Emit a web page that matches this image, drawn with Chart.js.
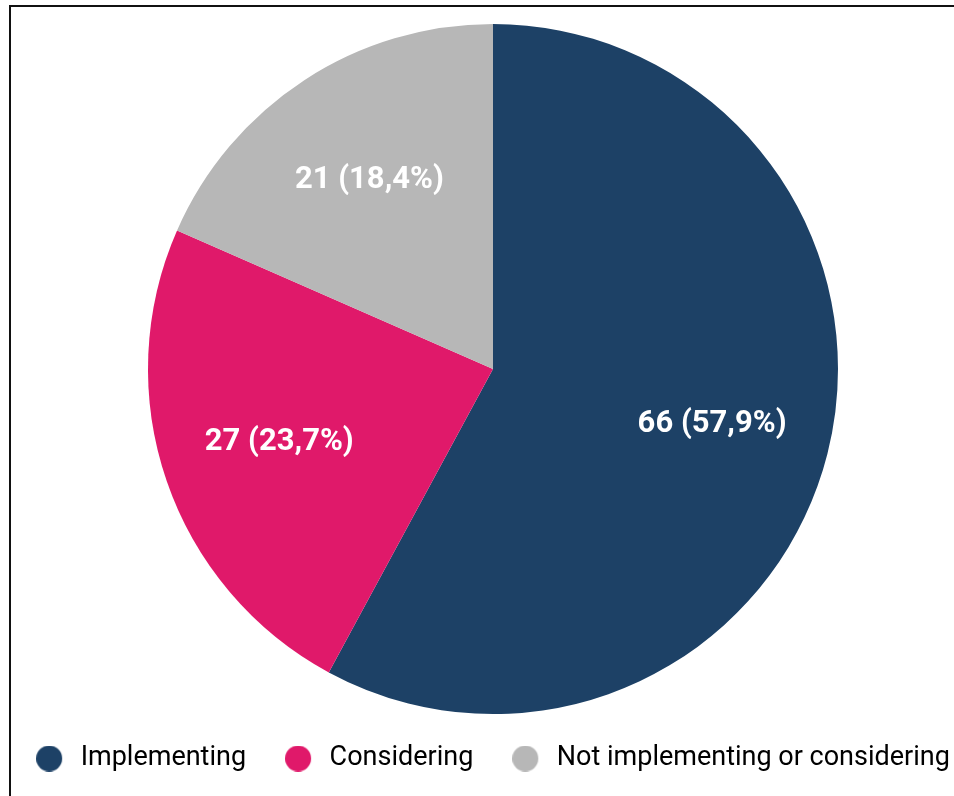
<!DOCTYPE html>
<html>
<head>
<meta charset="utf-8">
<script src="https://cdn.jsdelivr.net/npm/chart.js@4/dist/chart.umd.min.js"></script>
<style>
  html, body { margin: 0; padding: 0; background: #fff; }
  #wrap { position: relative; width: 954px; height: 796px; overflow: hidden; }
  #frame { position: absolute; left: 9px; top: 5px; width: 960px; height: 800px;
           border-left: 2px solid #111; border-top: 2px solid #111; }
  /* canvas is a bit wider than the page so the legend fits on one row */
  #chart { position: absolute; left: -27px; top: 0; }
</style>
</head>
<body>
<div id="wrap">
  <div id="frame"></div>
  <canvas id="chart" width="1040" height="796"></canvas>
</div>
<script>
// data
const categories = ['Implementing', 'Considering', 'Not implementing or considering'];
const counts = [66, 27, 21];
const sliceColors = ['#1d4166', '#e0196a', '#b7b7b7'];

const total = counts.reduce((a, b) => a + b, 0);

// label text like "66 (57,9%)"
const labelText = (v) => v + ' (' + (v / total * 100).toFixed(1).replace('.', ',') + '%)';

// legend dot: circle drawn at the left of a small canvas so the gap to the text matches
const makeDot = (color) => {
  const c = document.createElement('canvas');
  c.width = 31;
  c.height = 26;
  const g = c.getContext('2d');
  g.fillStyle = color;
  g.beginPath();
  g.arc(13, 13, 13, 0, Math.PI * 2);
  g.fill();
  return c;
};

const sliceLabels = {
  id: 'sliceLabels',
  afterDatasetsDraw(chart) {
    const ctx = chart.ctx;
    const meta = chart.getDatasetMeta(0);
    ctx.save();
    ctx.font = 'bold 31px Roboto';
    ctx.fillStyle = '#ffffff';
    ctx.textAlign = 'center';
    ctx.textBaseline = 'middle';
    meta.data.forEach((arc, i) => {
      const p = arc.getProps(['x', 'y', 'startAngle', 'endAngle', 'outerRadius'], true);
      const mid = (p.startAngle + p.endAngle) / 2;
      const r = p.outerRadius * 0.655;
      ctx.fillText(labelText(counts[i]), p.x + Math.cos(mid) * r, p.y + Math.sin(mid) * r);
    });
    ctx.restore();
  }
};

// legend sits a little closer to the pie than Chart.js puts it
const liftLegend = {
  id: 'liftLegend',
  afterLayout(chart) {
    chart.legend.top -= 8;
    chart.legend.bottom -= 8;
  }
};

new Chart('chart', {
  type: 'pie',
  data: {
    labels: categories,
    datasets: [{
      data: counts,
      backgroundColor: sliceColors,
      borderWidth: 0
    }]
  },
  options: {
    responsive: false,
    animation: false,
    layout: { padding: { top: 24, bottom: 6 } },
    plugins: {
      tooltip: { enabled: false },
      legend: {
        position: 'bottom',
        labels: {
          usePointStyle: true,
          pointStyleWidth: 31,
          boxHeight: 26,
          padding: 39,
          color: '#333',
          font: { family: 'Roboto', size: 27 },
          generateLabels: (chart) => categories.map((name, i) => ({
            text: name,
            pointStyle: makeDot(sliceColors[i]),
            fillStyle: sliceColors[i],
            strokeStyle: sliceColors[i],
            lineWidth: 0,
            index: i,
            hidden: false
          }))
        }
      }
    }
  },
  plugins: [sliceLabels, liftLegend]
});
</script>
</body>
</html>
